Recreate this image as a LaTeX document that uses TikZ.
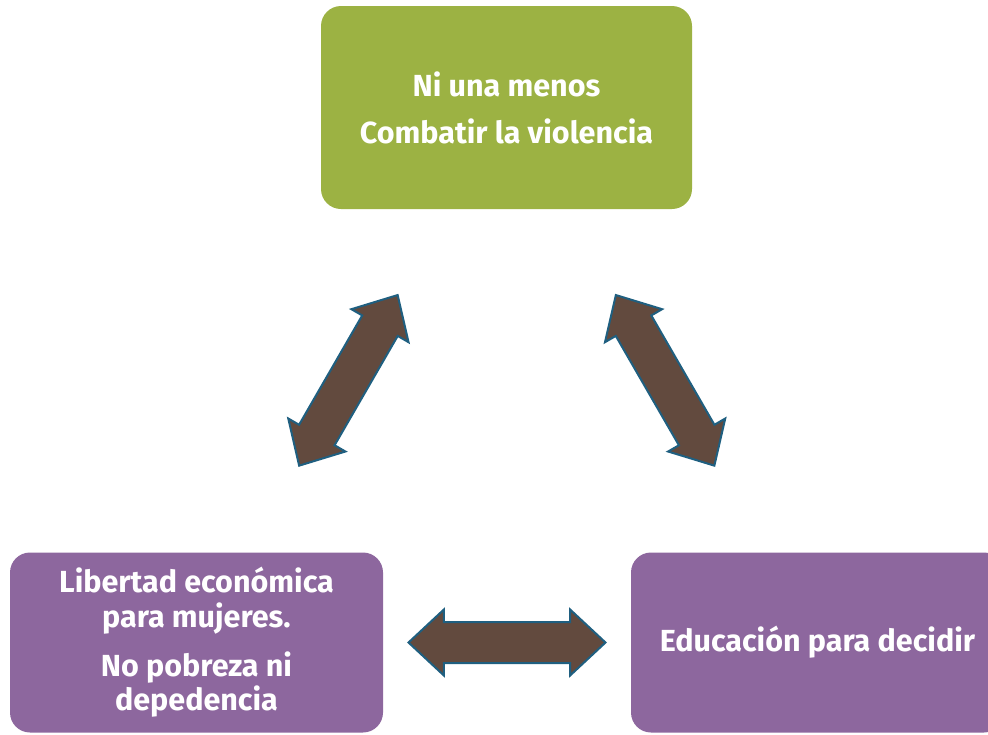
\documentclass[tikz,border=0pt]{standalone}
\usepackage{fontspec}
\setmainfont{Fira Sans}
\usetikzlibrary{positioning,shapes.arrows,calc}
\definecolor{boxgreen}{HTML}{9CB243}
\definecolor{boxpurple}{HTML}{8D679E}
\definecolor{arrowfill}{HTML}{624A3E}
\definecolor{arrowline}{HTML}{1F5F80}

\begin{document}
\begin{tikzpicture}[x=1pt, y=-1pt,
	box/.style={rounded corners=20pt, inner sep=0pt, outer sep=0pt, text=white, align=center,
		font=\bfseries\fontsize{30.5}{34}\selectfont},
	twoway/.style={double arrow, draw=arrowline, fill=arrowfill, line width=2pt,
		minimum height=197pt, minimum width=64pt, double arrow head extend=12.5pt,
		double arrow tip angle=86, inner xsep=0pt, inner ysep=19.5pt, outer sep=0pt}]
	\useasboundingbox (0,0) rectangle (988,734);
	\clip (0,0) rectangle (988,734);
	\node[box, fill=boxgreen, minimum width=371pt, minimum height=203pt] (nm) at (506.5,107.5)
		{Ni una menos\\[13pt]Combatir la violencia};
	\node[box, fill=boxpurple, minimum width=373pt, minimum height=180pt] (lib) at (196.5,642.5)
		{Libertad económica\\[1pt]para mujeres.\\[15pt]No pobreza ni\\depedencia};
	\node[box, fill=boxpurple, minimum width=373pt, minimum height=180pt, right=248pt of lib] (edu)
		{Educación para decidir};
	\node[twoway, rotate=60] (a1) at ($(nm)!0.51!(lib)$) {};
	\node[twoway, rotate=120] (a2) at ($(nm)!0.51!(edu)$) {};
	\node[twoway] (a3) at ($(lib.east)!0.5!(edu.west)$) {};
\end{tikzpicture}
\end{document}
